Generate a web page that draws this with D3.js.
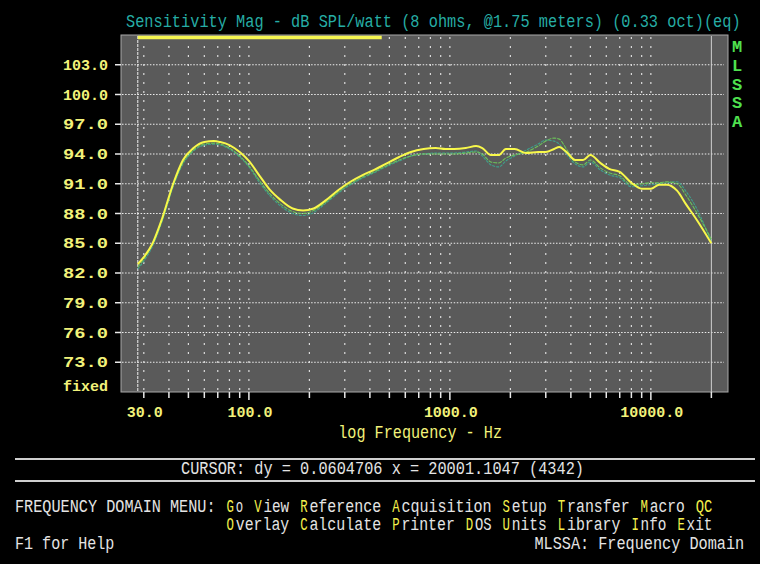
<!DOCTYPE html>
<html>
<head>
<meta charset="utf-8">
<script src="https://cdn.jsdelivr.net/npm/d3@7"></script>
<style>
  body { margin: 0; background: #000; }
  svg { display: block; }
  text { font-family: "Liberation Mono", "DejaVu Sans Mono", monospace; white-space: pre; }
</style>
</head>
<body>
<script>
// frequency points (Hz) shared by the three traces
const freqHz = [28, 30, 33, 37, 42, 47, 53, 60, 67, 72, 80, 90, 100, 113, 127, 143, 165, 186, 210, 240,
  280, 320, 370, 420, 480, 560, 640, 740, 850, 950, 1050, 1200, 1350, 1450, 1600, 1750, 1900, 2100,
  2400, 2750, 3000, 3300, 3500, 3800, 4200, 4600, 5000, 5600, 6200, 7000, 8000, 9000, 10000, 11000,
  12000, 13500, 15000, 17000, 20000];

// main trace (yellow)
const mainDb = [82.9, 83.6, 84.9, 87.5, 91.0, 93.4, 94.6, 95.2, 95.3, 95.2, 94.9, 94.2, 93.3, 91.8, 90.4,
  89.4, 88.5, 88.3, 88.5, 89.3, 90.4, 91.2, 91.9, 92.4, 93.0, 93.7, 94.2, 94.5, 94.6, 94.5, 94.5, 94.6,
  94.8, 94.6, 93.9, 93.9, 94.5, 94.5, 94.1, 94.2, 94.2, 94.5, 94.7, 94.2, 93.4, 93.4, 93.9, 93.1, 92.5,
  92.2, 91.1, 90.5, 90.5, 90.9, 90.9, 90.3, 88.9, 87.3, 85.0];

// overlay traces
const overlayGreenDb = [82.6, 83.4, 84.8, 87.3, 90.8, 93.1, 94.4, 95.0, 95.1, 95.0, 94.6, 93.8, 92.8, 91.3,
  90.0, 89.0, 88.2, 88.0, 88.3, 89.1, 90.2, 91.0, 91.7, 92.2, 92.8, 93.4, 93.8, 94.0, 94.0, 94.0, 94.0,
  94.1, 94.2, 94.0, 93.2, 93.1, 93.6, 93.9, 94.2, 94.8, 95.3, 95.6, 95.5, 94.5, 93.2, 92.9, 93.4, 92.6,
  92.1, 91.8, 90.9, 91.0, 91.1, 91.1, 91.2, 91.0, 89.8, 88.0, 85.4];
const overlayTealDb = [82.4, 83.2, 84.6, 87.2, 90.7, 93.0, 94.3, 94.9, 95.0, 94.9, 94.5, 93.7, 92.7, 91.1,
  89.8, 88.8, 88.0, 87.8, 88.1, 89.0, 90.1, 90.9, 91.6, 92.1, 92.7, 93.3, 93.8, 94.0, 94.1, 94.1, 94.1,
  94.2, 94.3, 93.8, 92.9, 92.7, 93.3, 93.8, 94.4, 95.0, 95.4, 95.3, 95.0, 94.0, 93.0, 92.7, 93.2, 92.4,
  91.9, 91.6, 90.7, 90.8, 90.9, 91.0, 91.1, 91.2, 90.2, 88.4, 85.1];

const yTicks = [73, 76, 79, 82, 85, 88, 91, 94, 97, 100, 103];
const gridFreqs = [30, 40, 50, 60, 70, 80, 90, 100, 200, 300, 400, 500, 600, 700, 800, 900,
  1000, 2000, 3000, 4000, 5000, 6000, 7000, 8000, 9000, 10000];
const tickOnlyFreqs = [20000];
const xLabelFreqs = [30, 100, 1000, 10000];
const cursorFreqs = [28, 20000];
const zoomBarFreqs = [28, 458];

const titleText = "Sensitivity Mag - dB SPL/watt (8 ohms, @1.75 meters) (0.33 oct)(eq)";
const xTitle = "log Frequency - Hz";
const cursorText = "CURSOR: dy = 0.0604706 x = 20001.1047 (4342)";
const menuRow1 = ["Go", "View", "Reference", "Acquisition", "Setup", "Transfer", "Macro", "QC"];
const menuRow2 = ["Overlay", "Calculate", "Printer", "DOS", "Units", "Library", "Info", "Exit"];
const hotKeys1 = [1, 1, 1, 1, 1, 1, 1, 2];
const hotKeys2 = [1, 1, 1, 1, 1, 1, 1, 1];
const sideLabel = ["M", "L", "S", "S", "A"];

const W = 760, H = 564;
const CW = 9.2;               // text-mode character width
const YEL = "#f2f27a", WHITE = "#e4e4e4", HOT = "#f4f04c";

const svg = d3.select("body").append("svg").attr("width", W).attr("height", H);
svg.append("rect").attr("width", W).attr("height", H).attr("fill", "#000");

const plot = { left: 121, right: 728, top: 35, bottom: 392 };
const x = d3.scaleLog().domain([23.1, 24200]).range([plot.left, plot.right]);
const y = d3.scaleLinear().domain([70, 106]).range([plot.bottom, plot.top]);

// one run of text-mode characters starting at a column
function dosRun(x0, col, yb, str, color) {
  return svg.append("g")
    .attr("transform", "translate(" + (x0 + col * CW) + "," + yb + ") scale(1,1.2)")
    .append("text")
    .attr("fill", color)
    .attr("font-size", 15)
    .attr("textLength", str.length * CW - 1.8)
    .attr("lengthAdjust", "spacingAndGlyphs")
    .text(str);
}

// title
dosRun(126, 0, 27, titleText, "#26ada5");

// plot background
svg.append("rect")
  .attr("x", plot.left).attr("y", plot.top)
  .attr("width", plot.right - plot.left).attr("height", plot.bottom - plot.top)
  .attr("fill", "#5a5a5a")
  .attr("stroke", "#a8a8a8").attr("stroke-width", 1);

// horizontal grid
svg.append("g").selectAll("line").data(yTicks).enter().append("line")
  .attr("x1", plot.left + 1).attr("x2", plot.right - 4)
  .attr("y1", d => y(d)).attr("y2", d => y(d))
  .attr("stroke", "#eeeeee").attr("stroke-width", 1.2)
  .attr("stroke-dasharray", "1.5,1.6");

// vertical grid
svg.append("g").selectAll("line").data(gridFreqs).enter().append("line")
  .attr("x1", d => x(d)).attr("x2", d => x(d))
  .attr("y1", plot.top + 2).attr("y2", plot.bottom - 1)
  .attr("stroke", "#dcdcdc").attr("stroke-width", 1.2)
  .attr("stroke-dasharray", "2,7");

// cursor lines
svg.append("g").selectAll("line").data(cursorFreqs).enter().append("line")
  .attr("x1", d => x(d)).attr("x2", d => x(d))
  .attr("y1", plot.top + 1).attr("y2", plot.bottom)
  .attr("stroke", (d, i) => i === 0 ? "#f0f0f0" : "#d0d0d0")
  .attr("stroke-width", 1)
  .attr("stroke-dasharray", (d, i) => i === 0 ? "3,1" : null);

// yellow zoom bar
svg.append("line")
  .attr("x1", x(zoomBarFreqs[0])).attr("x2", x(zoomBarFreqs[1]))
  .attr("y1", plot.top + 2.5).attr("y2", plot.top + 2.5)
  .attr("stroke", "#f6f650").attr("stroke-width", 3.5);

// y axis ticks + labels
const yAx = svg.append("g");
yAx.selectAll("line").data(yTicks).enter().append("line")
  .attr("x1", plot.left - 6).attr("x2", plot.left)
  .attr("y1", d => y(d)).attr("y2", d => y(d))
  .attr("stroke", "#e8e8e8").attr("stroke-width", 1.5);
yAx.selectAll("text").data(yTicks).enter().append("text")
  .attr("x", 108).attr("y", d => y(d) + 5)
  .attr("text-anchor", "end")
  .attr("fill", YEL).attr("font-size", 15).attr("font-weight", "bold")
  .attr("textLength", 45).attr("lengthAdjust", "spacingAndGlyphs")
  .text(d => d3.format(".1f")(d));
svg.append("text")
  .attr("x", 108).attr("y", 391).attr("text-anchor", "end")
  .attr("fill", YEL).attr("font-size", 15).attr("font-weight", "bold")
  .attr("textLength", 45).attr("lengthAdjust", "spacingAndGlyphs")
  .text("fixed");

// x axis ticks + labels
const isDecade = d => Math.abs(Math.log10(d) - Math.round(Math.log10(d))) < 1e-9;
svg.append("g").selectAll("line").data(gridFreqs.concat(tickOnlyFreqs)).enter().append("line")
  .attr("x1", d => x(d)).attr("x2", d => x(d))
  .attr("y1", plot.bottom).attr("y2", d => plot.bottom + (isDecade(d) ? 8 : 6))
  .attr("stroke", "#e8e8e8").attr("stroke-width", 1.5);
svg.append("g").selectAll("text").data(xLabelFreqs).enter().append("text")
  .attr("x", d => x(d) + 1).attr("y", 417)
  .attr("text-anchor", "middle")
  .attr("fill", YEL).attr("font-size", 15).attr("font-weight", "bold")
  .attr("textLength", d => d3.format(".1f")(d).length * 9)
  .attr("lengthAdjust", "spacingAndGlyphs")
  .text(d => d3.format(".1f")(d));
dosRun(421 - xTitle.length * CW / 2, 0, 438, xTitle, YEL);

// traces
const line = d3.line()
  .x(d => x(d[0]))
  .y(d => y(d[1]))
  .curve(d3.curveMonotoneX);
const traces = [
  { v: overlayTealDb, color: "#3f9f8c", w: 1.1, dash: "3,1" },
  { v: overlayGreenDb, color: "#6cc35a", w: 1.1, dash: "4,1" },
  { v: mainDb, color: "#f8f84a", w: 2, dash: null }
];
svg.append("g").selectAll("path").data(traces).enter().append("path")
  .attr("d", t => line(freqHz.map((f, i) => [f, t.v[i]])))
  .attr("fill", "none")
  .attr("stroke", t => t.color)
  .attr("stroke-width", t => t.w)
  .attr("stroke-dasharray", t => t.dash);

// side label
svg.append("g").selectAll("text").data(sideLabel).enter().append("text")
  .attr("x", 737).attr("y", (d, i) => 52 + i * 18.75)
  .attr("text-anchor", "middle")
  .attr("fill", "#4fe04f").attr("font-size", 17).attr("font-weight", "bold")
  .text(d => d);

// bottom status area
svg.append("line").attr("x1", 15).attr("x2", 755).attr("y1", 459).attr("y2", 459)
  .attr("stroke", "#cfcfcf").attr("stroke-width", 2);
svg.append("line").attr("x1", 15).attr("x2", 755).attr("y1", 481).attr("y2", 481)
  .attr("stroke", "#cfcfcf").attr("stroke-width", 2);
dosRun(181, 0, 474, cursorText, WHITE);

const X0 = 15;
dosRun(X0, 0, 512, "FREQUENCY DOMAIN MENU:", WHITE);
function menuRow(words, hot, yb) {
  let col = 23;
  words.forEach((w, i) => {
    dosRun(X0, col, yb, w.slice(0, hot[i]), HOT);
    if (w.length > hot[i]) dosRun(X0, col + hot[i], yb, w.slice(hot[i]), WHITE);
    col += w.length + 1;
  });
}
menuRow(menuRow1, hotKeys1, 512);
menuRow(menuRow2, hotKeys2, 530);
dosRun(X0, 0, 549, "F1 for Help", WHITE);
const rightStatus = "MLSSA: Frequency Domain";
dosRun(746 - rightStatus.length * CW, 0, 549, rightStatus, WHITE);
</script>
</body>
</html>
